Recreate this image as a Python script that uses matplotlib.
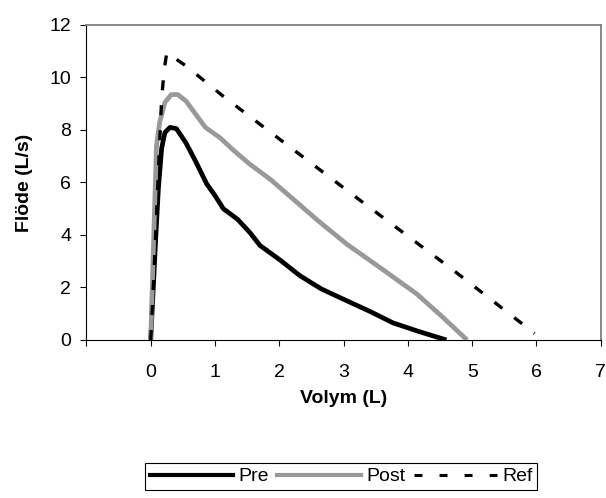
import matplotlib.pyplot as plt
from matplotlib.lines import Line2D

plt.rcParams['font.family'] = ['Liberation Sans', 'DejaVu Sans']

# volume (L) and flow (L/s)
pre_x = [0, 0.04, 0.08, 0.12, 0.17, 0.22, 0.30, 0.40, 0.55, 0.70, 0.87, 1.0,
         1.13, 1.35, 1.54, 1.70, 2.01, 2.32, 2.65, 3.0, 3.4, 3.77, 4.2, 4.6]
pre_y = [0, 2.0, 4.0, 5.8, 7.3, 7.9, 8.1, 8.05, 7.5, 6.8, 5.95, 5.5,
         5.0, 4.6, 4.1, 3.6, 3.05, 2.45, 1.95, 1.55, 1.1, 0.65, 0.3, 0]

post_x = [0, 0.03, 0.06, 0.09, 0.14, 0.22, 0.32, 0.42, 0.55, 0.7, 0.85,
          1.08, 1.3, 1.54, 1.86, 2.2, 2.6, 3.05, 3.6, 4.14, 4.55, 4.92]
post_y = [0, 2.5, 5.0, 7.4, 8.3, 9.05, 9.35, 9.35, 9.1, 8.6, 8.1,
          7.7, 7.2, 6.7, 6.12, 5.4, 4.55, 3.65, 2.7, 1.75, 0.85, 0]

ref_x = [0, 0.05, 0.09, 0.13, 0.17, 0.21, 0.25, 0.56, 1.13, 2.01, 3.23, 4.71, 5.97]
ref_y = [0, 2.5, 4.7, 7.0, 9.2, 10.3, 10.95, 10.42, 9.28, 7.64, 5.37, 2.65, 0.25]

labels = ['Pre', 'Post', 'Ref']
xticks = [-1, 0, 1, 2, 3, 4, 5, 6, 7]
xticklabels = ['', '0', '1', '2', '3', '4', '5', '6', '7']
yticks = [0, 2, 4, 6, 8, 10, 12]

fig = plt.figure(figsize=(6.06, 4.98), dpi=100)
ax = fig.add_axes([0.1426, 0.3173, 0.8488, 0.6325])

ax.plot(pre_x, pre_y, color='black', lw=3.4, solid_capstyle='butt')
ax.plot(post_x, post_y, color='#999999', lw=3.4, solid_capstyle='butt')
ax.plot(ref_x, ref_y, color='black', lw=2.4, dashes=(3.0, 4.5))

ax.set_xlim(-1, 7)
ax.set_ylim(0, 12)
ax.set_xticks(xticks)
ax.set_xticklabels(xticklabels)
ax.set_yticks(yticks)
ax.tick_params(labelsize=14, length=4, width=0.8)
ax.tick_params(axis='x', pad=13)
ax.tick_params(axis='y', pad=7)

for s in ['top', 'right']:
    ax.spines[s].set_color('#808080')
    ax.spines[s].set_linewidth(1.3)
for s in ['left', 'bottom']:
    ax.spines[s].set_color('black')
    ax.spines[s].set_linewidth(0.8)

ax.set_xlabel('Volym (L)', fontsize=14, fontweight='bold', labelpad=7)
ax.set_ylabel('Flöde (L/s)', fontsize=14, fontweight='bold', labelpad=12)

handles = [Line2D([], [], color='black', lw=3),
           Line2D([], [], color='#999999', lw=3),
           Line2D([], [], color='black', lw=2.2, dashes=(2.6, 5.6))]
leg = fig.legend(handles, labels, loc='center', bbox_to_anchor=(0.563, 0.043),
                 ncol=3, fontsize=14, handlelength=4.3, handletextpad=0.25,
                 columnspacing=0.45, fancybox=False, edgecolor='black',
                 framealpha=1, borderpad=0.25, borderaxespad=0)
leg.get_frame().set_linewidth(0.8)

fig.savefig('out.png', dpi=100)
